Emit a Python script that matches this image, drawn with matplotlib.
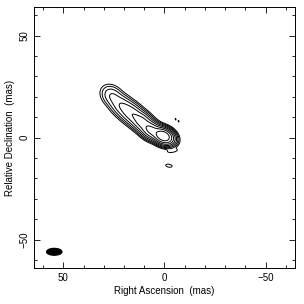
"""
VLBI contour map of a core-jet source
"""

import numpy as np
import matplotlib.pyplot as plt
from matplotlib.patches import Ellipse
import matplotlib.ticker as ticker

plt.rc('font', size=7, family='Liberation Sans')

# gaussian model components (RA, Dec in mas)
comp_ra = [0.5, 6.5, 11.0, 16.0, 21.0, 26.0, -4.0, -2.2, -5.5, -7.0]
comp_dec = [0.7, 3.5, 7.5, 11.5, 15.5, 20.5, -6.5, -13.8, 9.0, 8.0]
comp_flux = [1.0, 0.30, 0.16, 0.10, 0.055, 0.03, 0.0065, 0.0055, 0.0045, 0.0045]
comp_major = [2.6, 2.7, 3.0, 3.5, 3.5, 3.2, 2.2, 2.0, 0.9, 0.9]
comp_minor = [1.8, 2.0, 2.2, 2.4, 2.5, 2.5, 0.7, 0.9, 0.35, 0.35]
comp_pa = [25, 30, 37, 38, 38, 40, -10, 10, 70, 70]   # deg, from RA axis

levels = [0.004, 0.008, 0.016, 0.032, 0.064, 0.128, 0.256, 0.512]

# beam
beam_ra, beam_dec = 54.5, -56.0
beam_w, beam_h = 7.5, 3.3

ra = np.linspace(-64, 64, 700)
dec = np.linspace(-64, 64, 700)
RA, DEC = np.meshgrid(ra, dec)
img = np.zeros_like(RA)
for x0, y0, f, a, b, pa in zip(comp_ra, comp_dec, comp_flux, comp_major, comp_minor, comp_pa):
    t = np.radians(pa)
    u = (RA - x0)*np.cos(t) + (DEC - y0)*np.sin(t)
    v = -(RA - x0)*np.sin(t) + (DEC - y0)*np.cos(t)
    img += f*np.exp(-0.5*(u**2/a**2 + v**2/b**2))

fig = plt.figure(figsize=(3.04, 3.04), dpi=100)
ax = fig.add_axes([0.112, 0.118, 0.858, 0.859])

ax.contour(RA, DEC, img, levels=levels, colors='k', linewidths=0.7)
ax.add_patch(Ellipse((beam_ra, beam_dec), beam_w, beam_h, color='k'))

ax.set_xlim(64.5, -64.5)
ax.set_ylim(-64, 64)
ax.set_aspect('auto')

ax.xaxis.set_major_locator(ticker.MultipleLocator(50))
ax.yaxis.set_major_locator(ticker.MultipleLocator(50))
ax.xaxis.set_minor_locator(ticker.MultipleLocator(10))
ax.yaxis.set_minor_locator(ticker.MultipleLocator(10))
ax.tick_params(which='both', direction='in', top=True, right=True, width=0.6)
ax.tick_params(which='major', length=4)
ax.tick_params(which='minor', length=2)
for lab in ax.get_yticklabels():
    lab.set_rotation(90)
    lab.set_va('center')
for s in ax.spines.values():
    s.set_linewidth(0.7)

ax.set_xlabel("Right Ascension  (mas)", labelpad=2)
ax.set_ylabel("Relative Declination  (mas)", labelpad=3)

fig.savefig("out.png", dpi=100)
